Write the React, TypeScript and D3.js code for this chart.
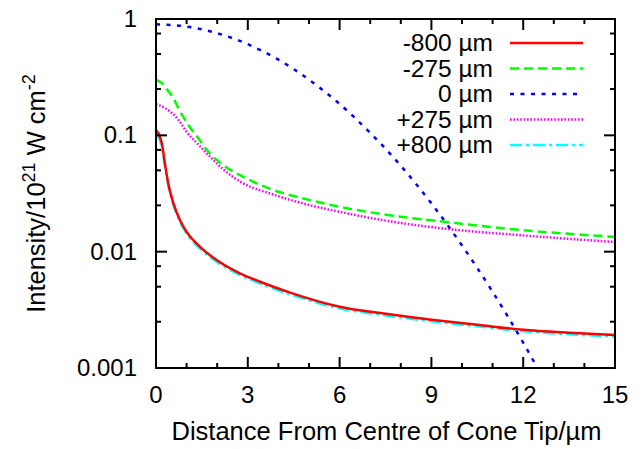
import React from 'react'
import * as d3 from 'd3'

/* chart size and plot frame, matches the 644 x 449 picture */
const width = 644
const height = 449
const margin = { top: 19, right: 29, bottom: 81, left: 156 }
const font = '"Liberation Sans", Arial, Helvetica, sans-serif'

/* distance from centre of cone tip (um) */
const redX = [0, 0.08, 0.19, 0.29, 0.4, 0.57, 0.78, 1, 1.44, 1.98, 2.64, 3.4, 4.38, 6, 7.5, 9, 10.5, 12, 13.5, 15]
const redY = [0.111, 0.104, 0.0853, 0.0574, 0.0386, 0.026, 0.0187, 0.0148, 0.011, 0.00847, 0.00671, 0.00551, 0.00445, 0.00336, 0.00292, 0.0026, 0.00235, 0.00213, 0.00201, 0.00192]

const greenX = [0, 0.2, 0.35, 0.57, 0.73, 0.89, 1.09, 1.4, 1.66, 2.19, 2.85, 3.83, 4.92, 6, 7.5, 9.48, 12, 15]
const greenY = [0.3, 0.28, 0.25, 0.208, 0.171, 0.144, 0.119, 0.093, 0.0748, 0.0556, 0.044, 0.0339, 0.0282, 0.0243, 0.0208, 0.018, 0.0153, 0.0134]

const blueX = [0, 1, 2, 3, 4, 5, 6, 7, 8, 9, 10, 11, 12, 12.45]
const blueY = [0.9, 0.861, 0.755, 0.607, 0.447, 0.301, 0.186, 0.105, 0.0547, 0.026, 0.0113, 0.00452, 0.00165, 0.00102]

const magentaX = [0, 0.3, 0.5, 0.7, 0.85, 1, 1.3, 1.66, 2.2, 2.75, 3.83, 4.92, 6, 7.5, 9.6, 12, 15]
const magentaY = [0.185, 0.171, 0.157, 0.139, 0.123, 0.107, 0.088, 0.07, 0.051, 0.04, 0.031, 0.0255, 0.022, 0.0185, 0.0156, 0.0138, 0.0121]

const cyanX = [0, 0.08, 0.19, 0.29, 0.4, 0.57, 0.78, 1, 1.44, 1.98, 2.64, 3.4, 4.38, 6, 7.5, 9, 10.5, 12, 13.5, 15]
const cyanY = [0.1, 0.097, 0.078, 0.055, 0.0375, 0.0252, 0.0181, 0.0143, 0.0106, 0.0082, 0.0065, 0.00533, 0.0043, 0.00325, 0.00283, 0.00252, 0.00228, 0.00207, 0.00195, 0.00186]

/* legend labels and ticks */
const seriesNames = ['-800 \u00b5m', '-275 \u00b5m', '0 \u00b5m', '+275 \u00b5m', '+800 \u00b5m']
const xTicks = [0, 3, 6, 9, 12, 15]
const xMinorTicks = d3.range(0, 16)
const yTicks = [1, 0.1, 0.01, 0.001]
const yTickLabels = ['1', '0.1', '0.01', '0.001']
const yMinorTicks = [0.25, 0.5, 0.75, 0.025, 0.05, 0.075, 0.0025, 0.005, 0.0075]

const styles = [
    { color: '#ff0000', dash: 'none' },
    { color: '#00ff00', dash: '9,5' },
    { color: '#0000ff', dash: '4,6.5' },
    { color: '#ff00ff', dash: '1.6,1.8' },
    { color: '#00ffff', dash: '12,4,3,4' },
]

const xScale = d3
    .scaleLinear()
    .domain([0, 15])
    .range([margin.left, width - margin.right])
const yScale = d3
    .scaleLog()
    .domain([0.001, 1])
    .range([height - margin.bottom, margin.top])

const line = d3
    .line<[number, number]>()
    .x((d) => xScale(d[0]))
    .y((d) => yScale(d[1]))
    .curve(d3.curveMonotoneX)

const zip = (xs: number[], ys: number[]) => xs.map((x, i) => [x, ys[i]] as [number, number])

const series = [
    zip(redX, redY),
    zip(greenX, greenY),
    zip(blueX, blueY),
    zip(magentaX, magentaY),
    zip(cyanX, cyanY),
]

export default function App() {
    const x0 = margin.left
    const x1 = width - margin.right
    const y0 = height - margin.bottom
    const y1 = margin.top
    return (
        <svg
            width={width}
            height={height}
            style={{ position: 'absolute', left: 0, top: 0, background: '#fff' }}
            fontFamily={font}
        >
            <defs>
                <clipPath id="plot">
                    <rect x={x0} y={y1} width={x1 - x0} height={y0 - y1} />
                </clipPath>
            </defs>

            {/* curves, drawn back to front like gnuplot */}
            <g clipPath="url(#plot)">
                {series
                    .map((d, i) => (
                        <path
                            key={i}
                            d={line(d) || ''}
                            fill="none"
                            stroke={styles[i].color}
                            strokeWidth={2.5}
                            strokeDasharray={styles[i].dash}
                        />
                    ))
                    .reverse()}
            </g>

            {/* ticks on all four sides */}
            <g stroke="#000" strokeWidth={2}>
                {xMinorTicks.map((t) => {
                    const len = xTicks.includes(t) ? 11 : 5
                    return (
                        <g key={'x' + t}>
                            <line x1={xScale(t)} x2={xScale(t)} y1={y0} y2={y0 - len} />
                            <line x1={xScale(t)} x2={xScale(t)} y1={y1} y2={y1 + len} />
                        </g>
                    )
                })}
                {yTicks.map((t) => (
                    <g key={'y' + t}>
                        <line x1={x0} x2={x0 + 11} y1={yScale(t)} y2={yScale(t)} />
                        <line x1={x1} x2={x1 - 11} y1={yScale(t)} y2={yScale(t)} />
                    </g>
                ))}
                {yMinorTicks.map((t) => (
                    <g key={'m' + t}>
                        <line x1={x0} x2={x0 + 5} y1={yScale(t)} y2={yScale(t)} />
                        <line x1={x1} x2={x1 - 5} y1={yScale(t)} y2={yScale(t)} />
                    </g>
                ))}
            </g>

            {/* frame */}
            <rect x={x0} y={y1} width={x1 - x0} height={y0 - y1} fill="none" stroke="#000" strokeWidth={2} />

            {/* tick labels */}
            <g fontSize={24} fill="#000">
                {xTicks.map((t) => (
                    <text key={t} x={xScale(t)} y={y0 + 35} textAnchor="middle">
                        {t}
                    </text>
                ))}
                {yTicks.map((t, i) => (
                    <text key={t} x={x0 - 19} y={yScale(t) + 8} textAnchor="end">
                        {yTickLabels[i]}
                    </text>
                ))}
            </g>

            {/* axis titles */}
            <text x={(x0 + x1) / 2 + 1} y={y0 + 72} fontSize={25.5} textAnchor="middle">
                Distance From Centre of Cone Tip/{'\u00b5'}m
            </text>
            <text
                transform={`translate(45, ${(y0 + y1) / 2 + 0}) rotate(-90)`}
                fontSize={25.5}
                textAnchor="middle"
            >
                Intensity/10
                <tspan fontSize={18} dy={-10}>21</tspan>
                <tspan dy={10}> W cm</tspan>
                <tspan fontSize={18} dy={-10}>-2</tspan>
            </text>

            {/* legend */}
            <g fontSize={24.5}>
                {seriesNames.map((name, i) => {
                    const y = 51 + i * 25.5
                    return (
                        <g key={name}>
                            <text x={493} y={y} textAnchor="end">
                                {name}
                            </text>
                            <line
                                x1={510}
                                x2={583}
                                y1={y - 8}
                                y2={y - 8}
                                stroke={styles[i].color}
                                strokeWidth={2.5}
                                strokeDasharray={styles[i].dash}
                            />
                        </g>
                    )
                })}
            </g>
        </svg>
    )
}
